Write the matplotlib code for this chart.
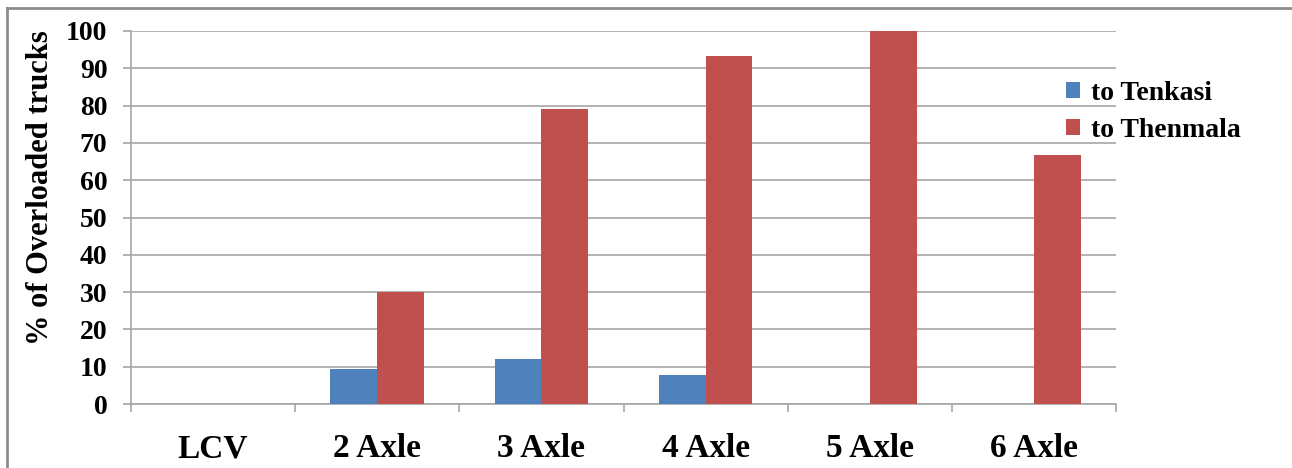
import numpy as np
import matplotlib.pyplot as plt
from matplotlib.lines import Line2D

# Overloaded trucks by vehicle class and direction
categories = ['LCV', '2 Axle', '3 Axle', '4 Axle', '5 Axle', '6 Axle']
to_tenkasi = [0, 9.5, 12.0, 7.9, 0, 0]
to_thenmala = [0, 30.0, 79.2, 93.3, 100, 66.7]

plt.rcParams['font.family'] = ['Liberation Serif', 'DejaVu Serif']
plt.rcParams['font.weight'] = 'bold'

fig = plt.figure(figsize=(12.92, 4.68), dpi=100)
ax = fig.add_axes([131/1292, 64/468, 985/1292, 373/468])

x = np.arange(len(categories))
w = 1 / 3.5   # gap width 150%
ax.bar(x - w/2, to_tenkasi, w, color='#4f81bd', label='to Tenkasi', zorder=3)
ax.bar(x + w/2, to_thenmala, w, color='#c0504d', label='to Thenmala', zorder=3)

ax.set_xlim(-0.5, len(categories) - 0.5)
ax.set_ylim(0, 100)
ax.set_yticks(np.arange(0, 101, 10))
ax.yaxis.grid(True, color='#a6a6a6', linewidth=1.2, zorder=0)

# category labels in the middle, tick marks on the boundaries
ax.set_xticks(x)
ax.set_xticklabels(categories, fontsize=24, fontweight='bold')
ax.tick_params(axis='x', which='major', length=0, pad=21)
ax.set_xticks(np.arange(-0.5, len(categories)), minor=True)
ax.tick_params(axis='x', which='minor', length=6, color='#a6a6a6', width=1.2)
ax.tick_params(axis='y', length=6, color='#a6a6a6', width=1.2, pad=11, labelsize=20)
for lbl in ax.get_yticklabels():
    lbl.set_fontweight('bold')

for side in ['top', 'right']:
    ax.spines[side].set_visible(False)
for side in ['left', 'bottom']:
    ax.spines[side].set_color('#a6a6a6')
    ax.spines[side].set_linewidth(1.2)

ax.set_ylabel('% of Overloaded trucks', fontsize=22, fontweight='bold')
ax.yaxis.set_label_coords(-0.077, 0.579)

leg = ax.legend(loc='upper left', bbox_to_anchor=(1041/1292, 412/468), bbox_transform=fig.transFigure,
                frameon=False, fontsize=20, handlelength=0.5, handleheight=0.5,
                handletextpad=0.4, labelspacing=0.42)
for t in leg.get_texts():
    t.set_fontweight('bold')

# outer border on the left and top
fig.add_artist(Line2D([7/1292, 7/1292], [0, 1 - 8/468], transform=fig.transFigure, color='#8c8c8c', linewidth=2))
fig.add_artist(Line2D([7/1292, 1], [1 - 8/468, 1 - 8/468], transform=fig.transFigure, color='#8c8c8c', linewidth=2))

fig.savefig('out.png', dpi=100)
